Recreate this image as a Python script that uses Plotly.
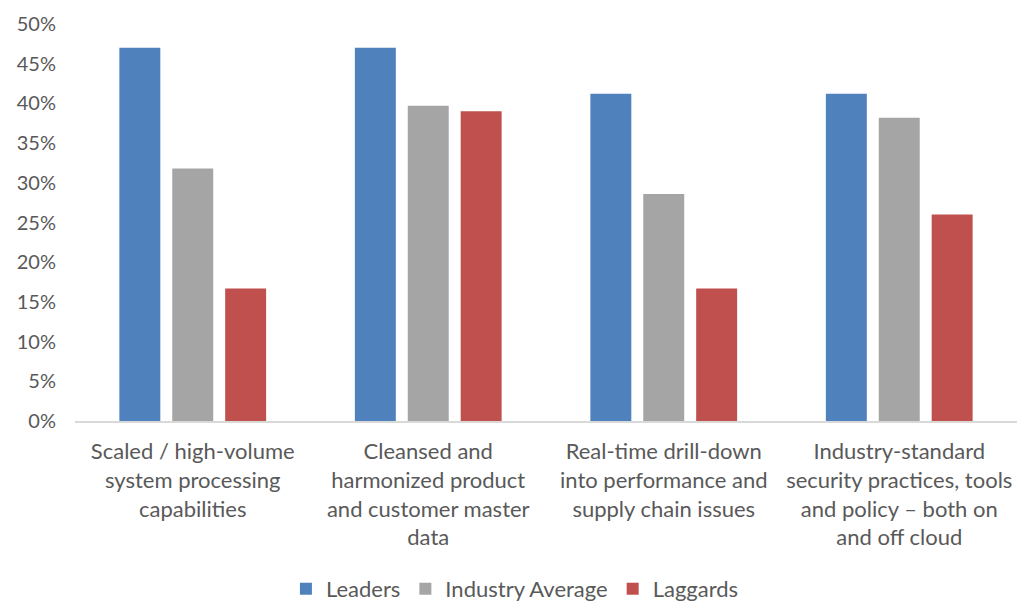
import plotly.graph_objects as go

# Capability categories shown along the x axis
categories = [
    "Scaled / high-volume<br>system processing<br>capabilities",
    "Cleansed and<br>harmonized product<br>and customer master<br>data",
    "Real-time drill-down<br>into performance and<br>supply chain issues",
    "Industry-standard<br>security practices, tools<br>and policy \u2013 both on<br>and off cloud",
]

# Share of respondents (%) per group
leaders = [47.0, 47.0, 41.2, 41.2]
industry_average = [31.8, 39.7, 28.6, 38.2]
laggards = [16.7, 39.0, 16.7, 26.0]

y_ticks = [0, 5, 10, 15, 20, 25, 30, 35, 40, 45, 50]
y_tick_labels = [f"{v}%" for v in y_ticks]

FONT = "Lato"
TEXT = "#595959"

fig = go.Figure()
for name, vals, color in [
    ("Leaders", leaders, "#4F81BD"),
    ("Industry Average", industry_average, "#A5A5A5"),
    ("Laggards", laggards, "#C0504D"),
]:
    fig.add_trace(go.Bar(x=categories, y=vals, name=name, marker_color=color,
                         marker_line_width=0))

fig.update_layout(
    width=1017, height=604,
    margin=dict(l=75, r=0, t=24, b=183, autoexpand=False),
    paper_bgcolor="white", plot_bgcolor="white",
    barmode="group", bargap=0.326, bargroupgap=0.226,
    font=dict(family=FONT, color=TEXT, size=22),
    showlegend=True,
    legend=dict(orientation="h", x=0.467, xanchor="center", y=-0.423, yanchor="middle",
                font=dict(size=22, color=TEXT), traceorder="normal"),
)
fig.update_xaxes(showline=True, linecolor="#D9D9D9", linewidth=2, showgrid=False,
                 ticks="", tickfont=dict(size=22, color=TEXT), tickangle=0,
                 range=[-0.5, 3.5], ticklabelstandoff=10, automargin=False)
fig.update_yaxes(range=[0, 50], tickvals=y_ticks, ticktext=y_tick_labels,
                 showgrid=False, zeroline=False, showline=False, ticks="",
                 tickfont=dict(size=20, color=TEXT), ticklabelstandoff=18,
                 automargin=False)

fig.write_html("out.html")
